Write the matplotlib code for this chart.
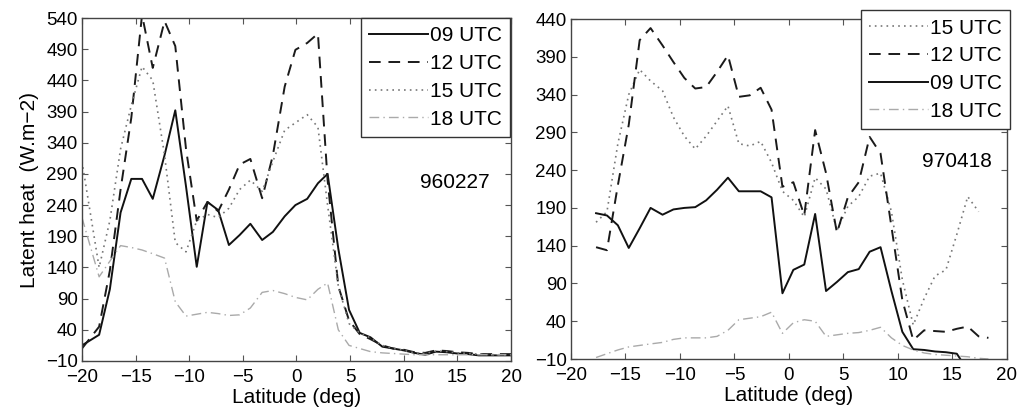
import numpy as np
import matplotlib.pyplot as plt

plt.rcParams['font.family'] = ['Liberation Sans', 'DejaVu Sans']

# ---- case 960227 (left panel) ----
lat1 = [-20.0, -18.4, -17.4, -16.4, -15.4, -14.4, -13.4, -12.3, -11.3, -10.3,
        -9.3, -8.3, -7.3, -6.3, -5.3, -4.3, -3.2, -2.2, -1.1, -0.1,
        1.0, 2.0, 2.9, 3.9, 4.9, 5.9, 6.9, 8.0, 9.0, 10.0,
        11.0, 12.0, 13.0, 14.0, 15.0, 16.0, 17.0, 18.0, 19.0, 20.0]
utc09_a = [15, 32, 105, 228, 282, 282, 250, 320, 392, 270,
           141, 245, 232, 176, 192, 210, 184, 197, 222, 240,
           250, 275, 290, 170, 72, 35, 28, 13, 10, 7,
           3, 0, 5, 4, 2, 1, -1, -1, -1, -1]
utc12_a = [10, 45, 135, 265, 380, 545, 460, 535, 495, 330,
           215, 245, 230, 265, 305, 314, 251, 320, 430, 489,
           500, 515, 280, 110, 55, 33, 25, 15, 10, 8,
           4, 3, 7, 6, 4, 3, 1, 1, 1, 1]
utc15_a = [310, 140, 215, 330, 400, 462, 440, 320, 180, 165,
           215, 225, 220, 235, 265, 280, 262, 310, 360, 372,
           385, 365, 240, 110, 50, 35, 27, 15, 10, 7,
           3, 2, 6, 5, 3, 2, 1, 0, 0, 0]
utc18_a = [220, 125, 150, 175, 172, 168, 162, 155, 85, 62,
           65, 68, 66, 63, 64, 75, 100, 103, 98, 92,
           88, 105, 115, 40, 15, 10, 5, 3, 2, 1,
           0, 0, 0, 0, 0, 0, 0, 0, 0, 0]

# ---- case 970418 (right panel) ----
lat2 = [-17.7, -16.7, -15.7, -14.7, -13.7, -12.7, -11.6, -10.6, -9.6, -8.6,
        -7.6, -6.6, -5.6, -4.6, -3.6, -2.6, -1.6, -0.6, 0.4, 1.4,
        2.4, 3.4, 4.4, 5.4, 6.4, 7.4, 8.4, 9.4, 10.4, 11.4,
        12.4, 13.4, 14.4, 15.4, 16.4, 17.4, 18.3]
utc15_b = [171, 185, 275, 340, 373, 358, 345, 310, 285, 268,
           285, 305, 325, 275, 272, 278, 250, 212, 200, 178,
           230, 215, 160, 192, 205, 232, 236, 185, 95, 35,
           70, 100, 108, 155, 205, 185, np.nan]
utc12_b = [138, 134, 220, 300, 412, 428, 405, 383, 362, 348,
           350, 370, 392, 337, 339, 349, 320, 218, 224, 180,
           293, 236, 157, 204, 224, 284, 262, 165, 68, 15,
           28, 27, 26, 30, 33, 20, 18]
utc09_b = [183, 180, 167, 137, 163, 190, 181, 188, 190, 191,
           200, 214, 230, 212, 212, 212, 204, 77, 108, 115,
           182, 80, 92, 105, 109, 132, 138, 80, 26, 3,
           2, 0, -1, -3, -25, np.nan, np.nan]
utc18_b = [-8, -3, 2, 6, 8, 10, 12, 16, 18, 18,
           18, 20, 28, 42, 44, 46, 52, 24, 38, 42,
           40, 20, 22, 24, 25, 28, 32, 18, 8, 2,
           -2, -4, -5, -6, -7, -9, -10]

styles = {
    '09 UTC': dict(color='#111111', ls='-', lw=1.4),
    '12 UTC': dict(color='#1a1a1a', ls=(0, (6, 4)), lw=1.4),
    '15 UTC': dict(color='#777777', ls=(0, (1, 2.5)), lw=1.2),
    '18 UTC': dict(color='#aaaaaa', ls=(0, (7, 3, 1, 3)), lw=1.0),
}

fig = plt.figure(figsize=(10.22, 4.18), dpi=100)
ax1 = fig.add_axes([0.0802, 0.1364, 0.4198, 0.8205])
ax2 = fig.add_axes([0.5587, 0.1411, 0.4266, 0.8134])

for name, vals in [('09 UTC', utc09_a), ('12 UTC', utc12_a),
                   ('15 UTC', utc15_a), ('18 UTC', utc18_a)]:
    ax1.plot(lat1, vals, label=name, **styles[name])

for name, vals in [('15 UTC', utc15_b), ('12 UTC', utc12_b),
                   ('09 UTC', utc09_b), ('18 UTC', utc18_b)]:
    ax2.plot(lat2, vals, label=name, **styles[name])

ax1.set_ylim(-10, 540)
ax1.set_yticks(np.arange(-10, 541, 50))
ax2.set_ylim(-10, 440)
ax2.set_yticks(np.arange(-10, 441, 50))

for ax in (ax1, ax2):
    ax.set_xlim(-20, 20)
    ax.set_xticks(np.arange(-20, 21, 5))
    ax.tick_params(direction='in', top=True, right=True, labelsize=13.5,
                   length=4, width=0.8, color='#555555')
    ax.tick_params(axis='x', pad=6)
    ax.tick_params(axis='y', pad=3)
    for s in ax.spines.values():
        s.set_color('#444444')
        s.set_linewidth(1.0)
    ax.set_xlabel('Latitude (deg)', fontsize=15, labelpad=1)

ax1.set_ylabel('Latent heat  (W.m\u22122)', fontsize=15, labelpad=5)

ax1.text(14.8, 277, '960227', fontsize=15, ha='center', va='center')
ax2.text(15.4, 251, '970418', fontsize=15, ha='center', va='center')

leg_kw = dict(loc='upper right', fontsize=15, handlelength=2.8,
              handletextpad=0.1, borderaxespad=0, labelspacing=0.42,
              borderpad=0.4, fancybox=False, framealpha=1,
              edgecolor='#333333')
leg1 = ax1.legend(bbox_to_anchor=(0.998, 1.0), **leg_kw)
leg2 = ax2.legend(bbox_to_anchor=(1.007, 1.026), **leg_kw)
for leg in (leg1, leg2):
    leg.get_frame().set_linewidth(1.0)

fig.savefig('out.png', dpi=100)
